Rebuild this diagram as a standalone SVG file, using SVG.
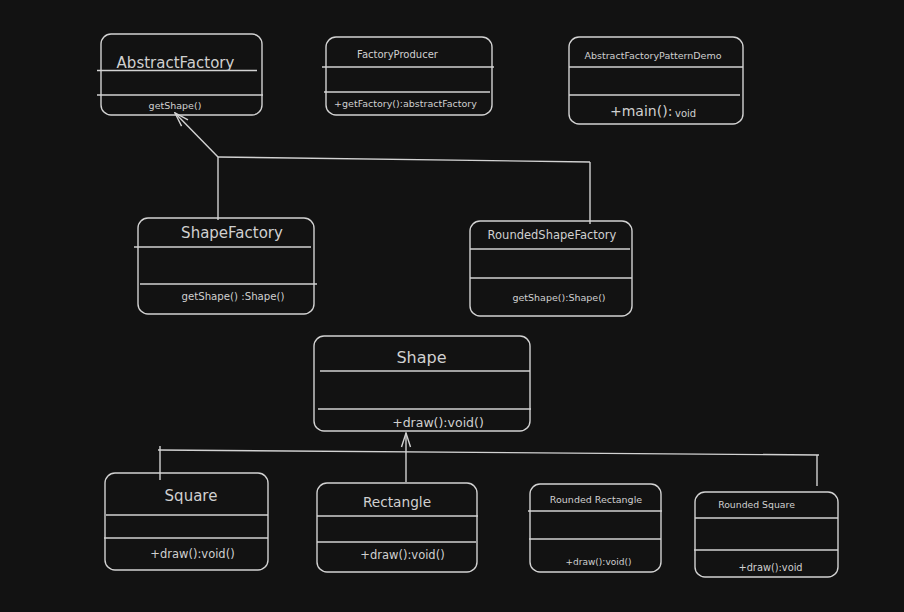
<svg xmlns="http://www.w3.org/2000/svg" width="904" height="612" viewBox="0 0 904 612">
  <defs>
    <style>
      .box { fill: none; stroke: #d2d2d2; stroke-width: 1.4; }
      .div { stroke: #d2d2d2; stroke-width: 1.4; }
      .conn { fill: none; stroke: #d2d2d2; stroke-width: 1.4; }
      text { font-family: "DejaVu Sans", "Liberation Sans", sans-serif; fill: #d0d0d0; text-anchor: middle; dominant-baseline: central; }
    </style>
    <marker id="open-arrow" markerUnits="userSpaceOnUse" markerWidth="16" markerHeight="14" viewBox="0 0 16 14" refX="15" refY="7" orient="auto">
      <path d="M1,2.5 L15,7 L1,11.5" fill="none" stroke="#d2d2d2" stroke-width="1.4"/>
    </marker>
  </defs>

  <rect width="904" height="612" fill="#121212"/>

  <!-- connectors -->
  <g id="connectors">
    <!-- factory generalisation -->
    <line class="conn" x1="218" y1="157" x2="175" y2="113" marker-end="url(#open-arrow)"/>
    <line class="conn" x1="218" y1="157" x2="590" y2="162"/>
    <line class="conn" x1="218" y1="157" x2="218" y2="220"/>
    <line class="conn" x1="590" y1="162" x2="590" y2="224"/>
    <!-- shape generalisation -->
    <line class="conn" x1="406" y1="482" x2="406" y2="433" marker-end="url(#open-arrow)"/>
    <line class="conn" x1="158" y1="450" x2="819" y2="455"/>
    <line class="conn" x1="160" y1="446" x2="160" y2="480"/>
    <line class="conn" x1="817" y1="455" x2="817" y2="486"/>
  </g>

  <g id="abstract-factory">
    <rect class="box" x="101" y="34" width="161" height="81" rx="10"/>
    <line class="div" x1="97" y1="70.5" x2="257" y2="70.5"/>
    <line class="div" x1="97" y1="95" x2="263" y2="95"/>
    <text x="175.5" y="63" font-size="15">AbstractFactory</text>
    <text x="175" y="105" font-size="9.5">getShape()</text>
  </g>

  <g id="factory-producer">
    <rect class="box" x="326" y="37" width="166" height="78" rx="10"/>
    <line class="div" x1="322" y1="67" x2="494" y2="67"/>
    <line class="div" x1="324" y1="92" x2="490" y2="92"/>
    <text x="397.5" y="54" font-size="10">FactoryProducer</text>
    <text x="405.5" y="103" font-size="9.5">+getFactory():abstractFactory</text>
  </g>

  <g id="abstract-factory-pattern-demo">
    <rect class="box" x="569" y="37" width="174" height="87" rx="10"/>
    <line class="div" x1="569" y1="67" x2="743" y2="67"/>
    <line class="div" x1="569" y1="95" x2="740" y2="95"/>
    <text x="653" y="55" font-size="9.5">AbstractFactoryPatternDemo</text>
    <text x="610" y="111" font-size="14" style="text-anchor:start">+main():</text>
    <text x="675" y="113" font-size="10" style="text-anchor:start">void</text>
  </g>

  <g id="shape-factory">
    <rect class="box" x="138" y="218" width="176" height="96" rx="10"/>
    <line class="div" x1="134" y1="247" x2="311" y2="247"/>
    <line class="div" x1="140" y1="284" x2="317" y2="284"/>
    <text x="232" y="233" font-size="15">ShapeFactory</text>
    <text x="233" y="296" font-size="10.2">getShape() :Shape()</text>
  </g>

  <g id="rounded-shape-factory">
    <rect class="box" x="470" y="221" width="162" height="95" rx="10"/>
    <line class="div" x1="470" y1="249" x2="630" y2="249"/>
    <line class="div" x1="470" y1="278" x2="632" y2="278"/>
    <text x="552" y="235" font-size="11.5">RoundedShapeFactory</text>
    <text x="559" y="297" font-size="9.5">getShape():Shape()</text>
  </g>

  <g id="shape">
    <rect class="box" x="314" y="336" width="216" height="95" rx="10"/>
    <line class="div" x1="320" y1="371" x2="530" y2="371"/>
    <line class="div" x1="318" y1="409" x2="531" y2="409"/>
    <text x="421.5" y="357" font-size="16">Shape</text>
    <text x="438" y="422" font-size="12.5">+draw():void()</text>
  </g>

  <g id="square">
    <rect class="box" x="105" y="473" width="163" height="97" rx="10"/>
    <line class="div" x1="106" y1="515" x2="268" y2="515"/>
    <line class="div" x1="104" y1="538" x2="268" y2="538"/>
    <text x="191" y="496" font-size="15">Square</text>
    <text x="192.5" y="554" font-size="11.5">+draw():void()</text>
  </g>

  <g id="rectangle">
    <rect class="box" x="317" y="483" width="160" height="89" rx="10"/>
    <line class="div" x1="317" y1="516" x2="478" y2="516"/>
    <line class="div" x1="317" y1="542" x2="476" y2="542"/>
    <text x="397" y="502" font-size="13.7">Rectangle</text>
    <text x="402.5" y="555" font-size="11.5">+draw():void()</text>
  </g>

  <g id="rounded-rectangle">
    <rect class="box" x="530" y="484" width="131" height="88" rx="10"/>
    <line class="div" x1="528" y1="511" x2="662" y2="511"/>
    <line class="div" x1="529" y1="539" x2="661" y2="539"/>
    <text x="596" y="499" font-size="9.5">Rounded Rectangle</text>
    <text x="598.5" y="562" font-size="9">+draw():void()</text>
  </g>

  <g id="rounded-square">
    <rect class="box" x="695" y="492" width="143" height="85" rx="10"/>
    <line class="div" x1="695" y1="518" x2="838" y2="518"/>
    <line class="div" x1="694" y1="550" x2="838" y2="550"/>
    <text x="756.5" y="504" font-size="9.3">Rounded Square</text>
    <text x="770.5" y="567" font-size="9.8">+draw():void</text>
  </g>
</svg>
